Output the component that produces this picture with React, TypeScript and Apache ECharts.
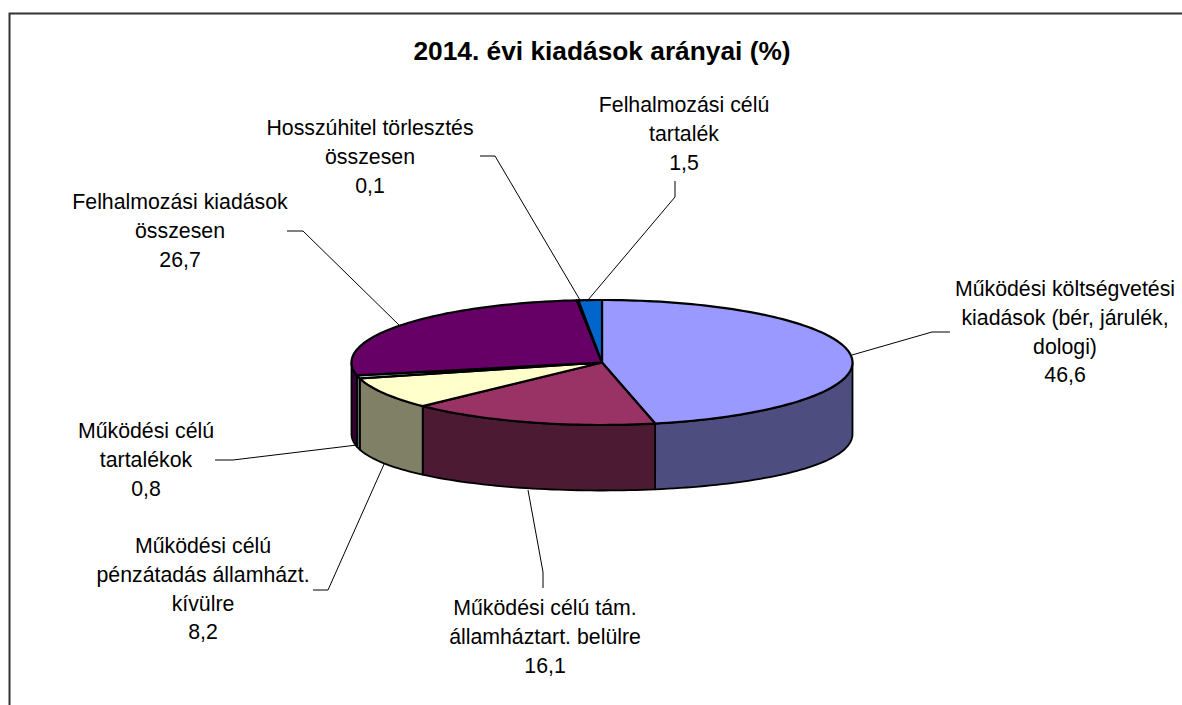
import React, { useEffect, useRef } from "react";
import * as echarts from "echarts";

const titleText = "2014. évi kiadások arányai (%)";
const categories = [
  "Működési költségvetési\nkiadások (bér, járulék,\ndologi)",
  "Működési célú tám.\nállamháztart. belülre",
  "Működési célú\npénzátadás államházt.\nkívülre",
  "Működési célú\ntartalékok",
  "Felhalmozási kiadások\nösszesen",
  "Hosszúhitel törlesztés\nösszesen",
  "Felhalmozási célú\ntartalék",
];
const values = [46.6, 16.1, 8.2, 0.8, 26.7, 0.1, 1.5];
const valueLabels = ["46,6", "16,1", "8,2", "0,8", "26,7", "0,1", "1,5"];
const topColors = ["#9999FF", "#993366", "#FFFFCC", "#CCFFFF", "#660066", "#FF8080", "#0066CC"];
const wallColors = ["#4D4D80", "#4D1A33", "#808066", "#668080", "#330033", "#804040", "#003366"];

const cx = 602, cy = 362.5, rx = 250.5, ry = 62.5, depth = 65.5, depthSide = 6;
const total = values.reduce((a, b) => a + b, 0);

// label centre x, first line centre y
const labelPos: [number, number][] = [
  [1065, 289], [545, 608], [203, 546], [146, 431], [180, 202], [370, 128], [684, 105],
];
// leader polylines (label end -> elbow -> pie)
const leaders: [number, number][][] = [
  [[950, 332], [932, 332], [852, 355]],
  [[543, 588], [543, 572], [528, 490]],
  [[313, 590], [328, 590], [385, 462]],
  [[215, 460], [233, 460], [357, 445]],
  [[287, 231], [303, 231], [399, 325]],
  [[480, 156], [495, 156], [580, 300]],
  [[675, 181], [675, 197], [588, 300]],
];

const pt = (deg: number, wall: boolean): [number, number] => {
  const r = (deg * Math.PI) / 180;
  const s = Math.sin(r);
  const dy = wall ? depth + depthSide * s * s : 0;
  return [cx + rx * s, cy - ry * Math.cos(r) + dy];
};
const arc = (a: number, b: number, wall = false) => {
  const n = Math.max(2, Math.ceil(Math.abs(b - a) / 1.5));
  const out: [number, number][] = [];
  for (let i = 0; i <= n; i++) out.push(pt(a + ((b - a) * i) / n, wall));
  return out;
};

const angleRange = (idx: number): [number, number] => {
  let s = 0;
  for (let i = 0; i < idx; i++) s += values[i];
  return [(s / total) * 360, ((s + values[idx]) / total) * 360];
};

const renderSlice = (params: any) => {
  const i = params.dataIndex;
  const [a, b] = angleRange(i);
  const lo = Math.max(a, 90), hi = Math.min(b, 270);
  const children: any[] = [];
  if (hi > lo) {
    children.push({
      type: "polygon",
      shape: { points: [...arc(lo, hi), ...arc(hi, lo, true)] },
      style: { fill: wallColors[i], stroke: "#000", lineWidth: 1.8, lineJoin: "round" },
    });
  }
  return { type: "group", children };
};

const renderTop = (params: any) => {
  const i = params.dataIndex;
  const [a, b] = angleRange(i);
  return {
    type: "polygon",
    shape: { points: [[cx, cy], ...arc(a, b)] },
    style: { fill: topColors[i], stroke: "#000", lineWidth: 2.2, lineJoin: "round" },
  };
};

const renderLeader = (params: any) => ({
  type: "polyline",
  shape: { points: leaders[params.dataIndex] },
  style: { stroke: "#000", lineWidth: 1, fill: "none" },
});

export default function App() {
  const ref = useRef<HTMLDivElement>(null);
  useEffect(() => {
    const chart = echarts.init(ref.current!, null, { renderer: "svg" });
    const font = "Liberation Sans, Arial, sans-serif";
    chart.setOption({
      animation: false,
      backgroundColor: "#fff",
      title: {
        text: titleText,
        left: 597,
        top: 33,
        textAlign: "center",
        textStyle: { fontFamily: font, fontSize: 26.3, fontWeight: "bold", color: "#000" },
      },
      graphic: [
        {
          type: "polyline",
          silent: true,
          shape: { points: [[9.5, 705], [9.5, 13.5], [1182, 13.5]] },
          style: { stroke: "#333", lineWidth: 2, fill: "none" },
        },
        ...categories.map((c, i) => ({
          type: "text",
          x: labelPos[i][0],
          y: labelPos[i][1] - 14,
          style: {
            text: c + "\n" + valueLabels[i],
            fontFamily: font,
            fontSize: 21.3,
            lineHeight: 28.6,
            fill: "#000",
            align: "center",
            verticalAlign: "top",
          },
        })),
      ],
      series: [
        { type: "custom", coordinateSystem: "none", renderItem: renderLeader, data: values, z: 1, silent: true },
        { type: "custom", coordinateSystem: "none", renderItem: renderSlice, data: values, z: 2, silent: true },
        { type: "custom", coordinateSystem: "none", renderItem: renderTop, data: values, z: 3, silent: true },
      ],
    });
    return () => chart.dispose();
  }, []);
  return <div ref={ref} style={{ width: 1182, height: 705, position: "absolute", left: 0, top: 0 }} />;
}
